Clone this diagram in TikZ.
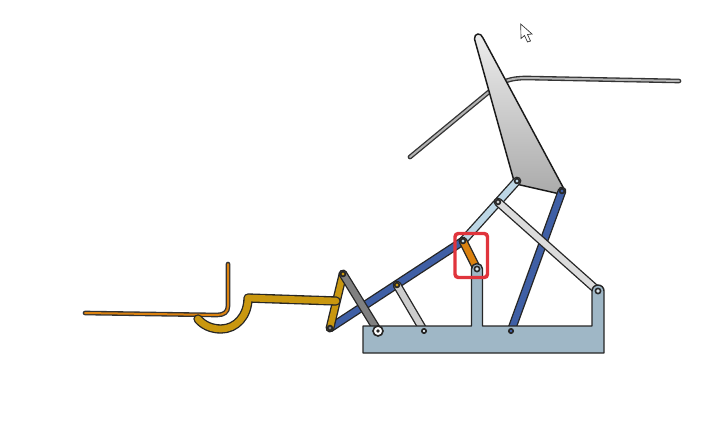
\documentclass[tikz,border=0pt]{standalone}
\usepackage{tikz}
\definecolor{basecol}{HTML}{9FB7C6}
\definecolor{bluecol}{HTML}{3F5FA5}
\definecolor{icecol}{HTML}{BDD7E6}
\definecolor{greycol}{HTML}{808080}
\definecolor{palecol}{HTML}{CDCDCD}
\definecolor{goldcol}{HTML}{C9970F}
\definecolor{orangecol}{HTML}{DB8210}
\definecolor{redcol}{HTML}{E0343C}
\tikzset{
  linkbar/.style={draw=black!85,line width=1pt,double=#1,double distance=4.6pt,line cap=round,line join=round},
  thinbar/.style={draw=black!80,line width=1pt,double=#1,double distance=1.5pt,line cap=round,line join=round},
  pin/.style={draw=black!85,line width=1.2pt,fill=#1},
}
\begin{document}
\begin{tikzpicture}[x=0.75pt,y=0.75pt,yscale=-1,xscale=1]
        \useasboundingbox (0,0) rectangle (725,422);

        %Joints
        \coordinate (lever) at (343,274);
        \coordinate (foot) at (330,328);
        \coordinate (fixA) at (378,331);
        \coordinate (fixB) at (424,331);
        \coordinate (fixC) at (511,331);
        \coordinate (fixD) at (477,269);
        \coordinate (fixE) at (598,291);
        \coordinate (mid) at (397,285);
        \coordinate (knee) at (463,241);
        \coordinate (wedgeA) at (517,181);
        \coordinate (wedgeB) at (562,191);
        \coordinate (elbow) at (498,202);

        %Rod behind the wedge
        \draw[thinbar=greycol!60] (410,157) -- (490,91) .. controls (502,81) and (510,78) .. (527,78) -- (679,81);
        %Wedge
        \draw[draw=black!90,line width=1.1pt,line join=round,top color=black!7,bottom color=black!33] (474.5,39) .. controls (474,33) and (481,32) .. (483,38) -- (564,189) .. controls (565,192) and (563,194) .. (560,194) -- (516,184) -- (514,181) -- cycle;

        %Pedal plate
        \draw[thinbar=orangecol] (85,313) -- (217,315) .. controls (224,315) and (228,312) .. (228,306) -- (228,264);

        %Links
        \draw[linkbar=bluecol] (foot) -- (knee);
        %Gold arm
        \draw[linkbar=goldcol] (foot) -- (lever);
        \draw[linkbar=goldcol,double distance=5pt] (336,301) -- (248,298) .. controls (248,316) and (236,329) .. (221,329) .. controls (211,329) and (203,325) .. (198,319);
        \draw[linkbar=icecol] (knee) -- (wedgeA);
        \draw[linkbar=bluecol] (fixC) -- (wedgeB);
        \draw[linkbar=palecol!70!white] (elbow) -- (fixE);
        \draw[linkbar=palecol] (mid) -- (fixB);
        \draw[linkbar=greycol] (lever) -- (fixA);
        \draw[linkbar=orangecol] (knee) -- (fixD);

        %Base
        \draw[draw=black!85,line width=1.1pt,fill=basecol,line join=round] (363,326) -- (471.5,326) -- (471.5,269) arc[start angle=180,end angle=360,radius=5.5] -- (482.5,326) -- (592,326) -- (592,291) arc[start angle=180,end angle=360,radius=6] -- (604,353) -- (363,353) -- cycle;

        %Pins
        \draw[pin=white] (fixA) circle (5);
        \fill[black!85] (fixA) circle (1.8);
        \draw[pin=basecol!40!white] (fixB) circle (2.2);
        \draw[pin=bluecol] (fixC) circle (2.2);
        \draw[pin=basecol!40!white] (fixD) circle (2.6);
        \draw[pin=basecol!40!white] (fixE) circle (2.6);
        \draw[pin=goldcol] (mid) circle (2.4);
        \draw[pin=goldcol] (lever) circle (2.4);
        \draw[pin=greycol] (foot) circle (2.4);
        \draw[pin=icecol] (knee) circle (2.4);
        \draw[pin=icecol] (wedgeA) circle (2.4);
        \draw[pin=bluecol] (wedgeB) circle (2.4);
        \draw[pin=palecol] (elbow) circle (2.4);

        %Highlight box
        \draw[redcol,line width=2.6pt,rounded corners=2.5pt] (455,233.5) rectangle (487.5,277.5);

        %Cursor
        \draw[draw=black!80,line width=0.5pt,fill=white,line join=miter] (520.7,24) -- (521,38.5) -- (524.5,35.5) -- (527.5,42) -- (530.5,41) -- (527.5,34.5) -- (532,34) -- cycle;

    \end{tikzpicture}
\end{document}
